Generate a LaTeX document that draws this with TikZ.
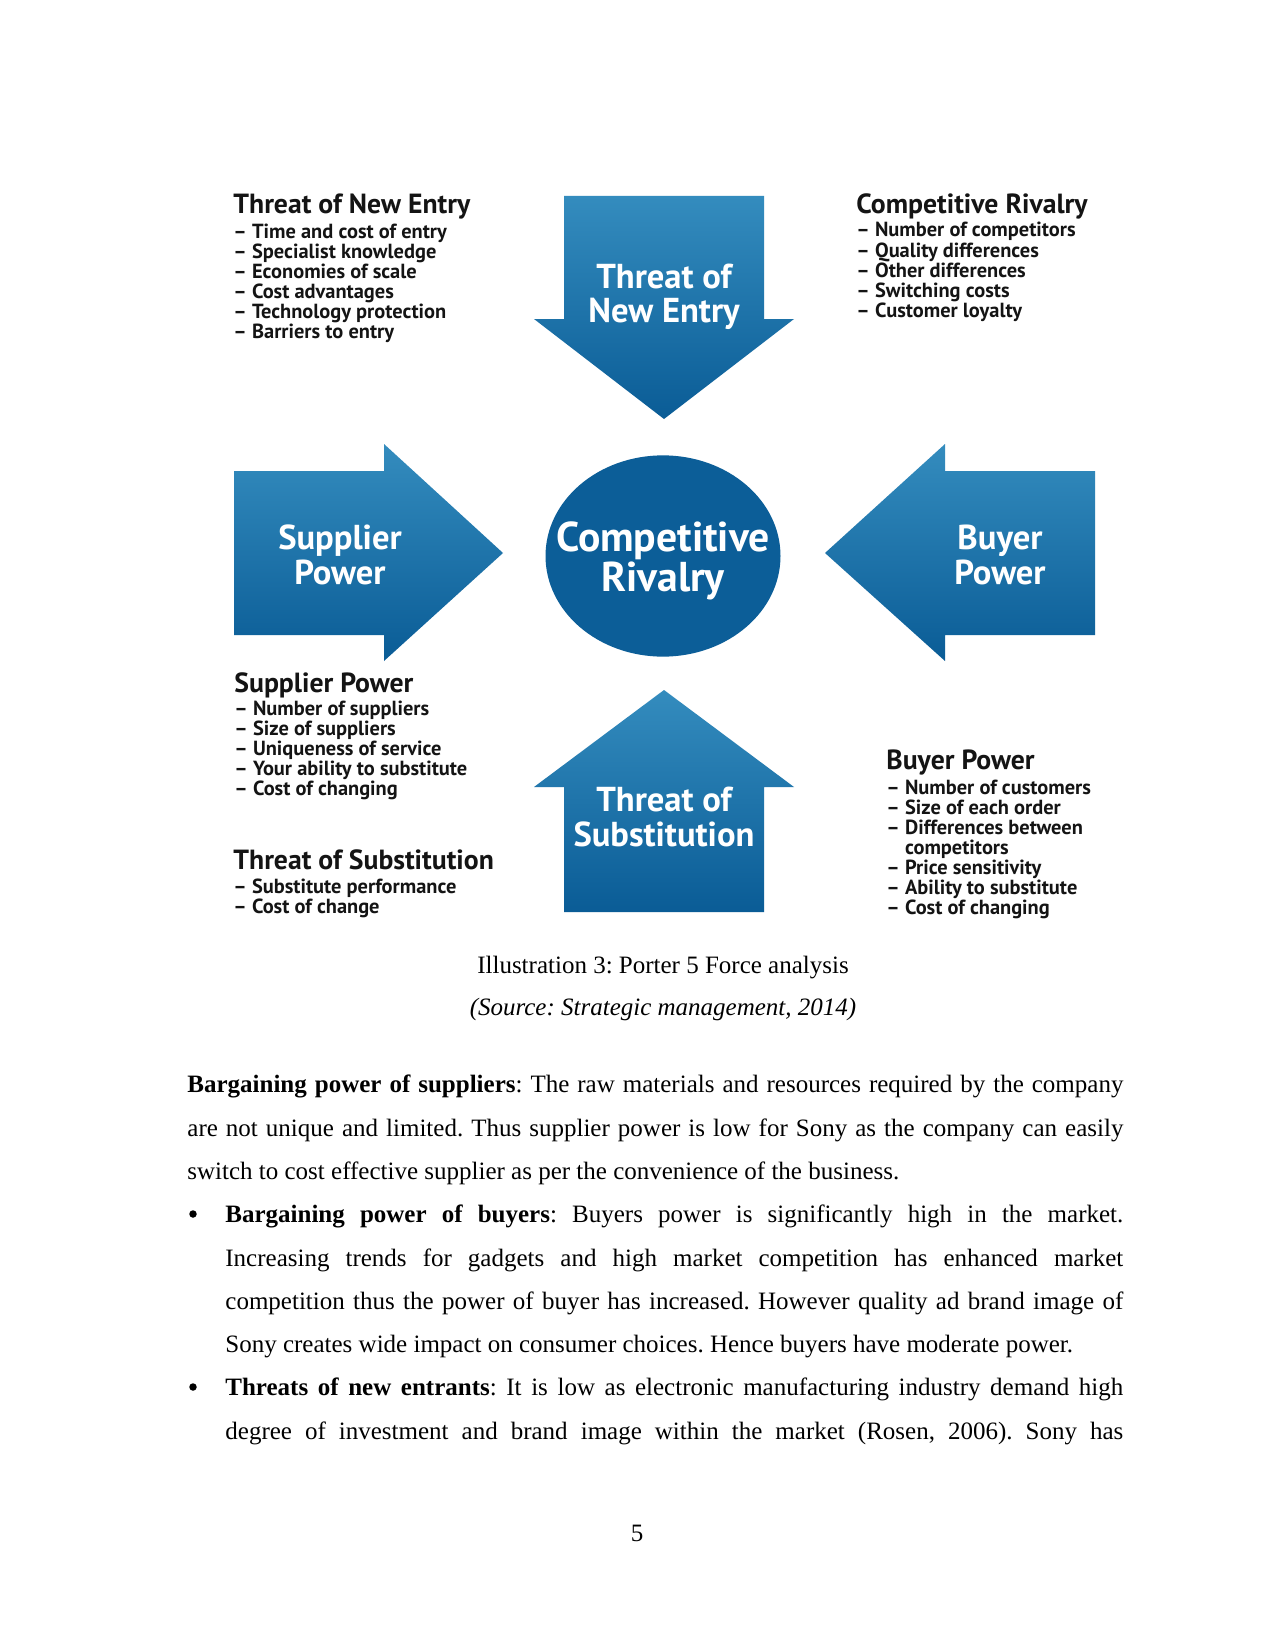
\documentclass[tikz,border=0pt]{standalone}
\usepackage{fontspec}
\setmainfont{Liberation Serif}
\newfontfamily\diagfont{PT Sans}
\usetikzlibrary{positioning}
\frenchspacing

\definecolor{arrowtop}{RGB}{52,140,190}
\definecolor{arrowbot}{RGB}{10,92,150}
\definecolor{rivalblue}{RGB}{12,94,152}
\definecolor{listink}{RGB}{20,20,20}

\tikzset{
  force/.style={top color=arrowtop, bottom color=arrowbot, draw=none},
  forcelabel/.style={font=\diagfont\bfseries\fontsize{16.6}{16.5}\selectfont, text=white, align=center, inner sep=0pt},
  listhead/.style={font=\diagfont\bfseries\fontsize{13.3}{14}\selectfont, text=listink, anchor=base west, inner sep=0pt},
  listitem/.style={font=\diagfont\bfseries\fontsize{9.8}{10}\selectfont, text=listink, anchor=base west, inner sep=0pt},
  bodytext/.style={font=\fontsize{12}{20.8}\selectfont, align=justify, anchor=north west, inner sep=0pt},
  captext/.style={font=\fontsize{12}{14}\selectfont, anchor=base, inner sep=0pt},
  bulletdot/.style={circle, fill=black, inner sep=0pt, minimum size=3.6pt},
}

\begin{document}
\begin{tikzpicture}[x=0.48pt,y=-0.48pt]
\useasboundingbox (0,0) rectangle (1275,1651);
\fill[white] (0,0) rectangle (1275,1651);

% forces
\shade[force] (564,196) -- (764,196) -- (764,319) -- (794,319) -- (664,419) -- (534,319) -- (564,319) -- cycle;
\shade[force] (234,471) -- (384,471) -- (384,444) -- (503,553) -- (384,661) -- (384,635) -- (234,635) -- cycle;
\shade[force] (1095,471) -- (945,471) -- (945,444) -- (825,553) -- (945,661) -- (945,635) -- (1095,635) -- cycle;
\shade[force] (664,690) -- (794,787) -- (764,787) -- (764,912) -- (564,912) -- (564,787) -- (534,787) -- cycle;

% rivalry
\fill[rivalblue] (663,556) ellipse [x radius=56.4pt, y radius=48.3pt];
\node[font=\diagfont\bfseries\fontsize{20}{19.5}\selectfont, text=white, align=center, inner sep=0pt] (rivalry) at (663,561) {Competitive\\Rivalry};

% labels
\node[forcelabel] (entrylabel) at (664,297) {Threat of\\New Entry};
\node[forcelabel] (supplabel) at (340,555) {Supplier\\Power};
\node[forcelabel] (buylabel) at (1000,555) {Buyer\\Power};
\node[forcelabel] (sublabel) at (664,817) {Threat of\\Substitution};

% lists
\node[listhead] (entryhead) at (233,214) {Threat of New Entry};
\foreach \t [count=\i] in {Time and cost of entry, Specialist knowledge, Economies of scale, Cost advantages, Technology protection, Barriers to entry}
  \node[listitem] (entry\i) at (233,218+20*\i) {– \t};

\node[listhead] (rivalhead) at (856,214) {Competitive Rivalry};
\foreach \t [count=\i] in {Number of competitors, Quality differences, Other differences, Switching costs, Customer loyalty}
  \node[listitem] (rival\i) at (856,217+20*\i) {– \t};

\node[listhead] (supphead) at (234,692) {Supplier Power};
\foreach \t [count=\i] in {Number of suppliers, Size of suppliers, Uniqueness of service, Your ability to substitute, Cost of changing}
  \node[listitem] (supp\i) at (234,695+20*\i) {– \t};

\node[listhead] (subhead) at (233,869) {Threat of Substitution};
\foreach \t [count=\i] in {Substitute performance, Cost of change}
  \node[listitem] (sub\i) at (233,873+20*\i) {– \t};

\node[listhead] (buyhead) at (886,769) {Buyer Power};
\foreach \t [count=\i] in {– Number of customers, – Size of each order, – Differences between, \phantom{– }competitors, – Price sensitivity, – Ability to substitute, – Cost of changing}
  \node[listitem] (buy\i) at (886,774+20*\i) {\t};

% caption
\node[captext] (caption) at (663,973) {Illustration 3: Porter 5 Force analysis};
\node[captext, font=\itshape\fontsize{12}{14}\selectfont] (source) at (663,1015) {(Source: Strategic management, 2014)};

% text
\node[bodytext, text width=449.3pt] (para) at (187,1062) {\strut\textbf{Bargaining power of suppliers}: The raw materials and resources required by the company\linebreak are not unique and limited. Thus supplier power is low for Sony as the company can easily\linebreak switch to cost effective supplier as per the convenience of the business.};

\node[bulletdot] (bul1) at (193,1214) {};
\node[bodytext, text width=431pt] (buyers) at (225,1192) {\strut\textbf{Bargaining power of buyers}: Buyers power is significantly high in the market.\linebreak Increasing trends for gadgets and high market competition has enhanced market\linebreak competition thus the power of buyer has increased. However quality ad brand image of\linebreak Sony creates wide impact on consumer choices. Hence buyers have moderate power.};

\node[bulletdot] (bul2) at (193,1387) {};
\node[bodytext, text width=431pt] (entrants) at (225,1365) {\strut\textbf{Threats of new entrants}: It is low as electronic manufacturing industry demand high\linebreak degree of investment and brand image within the market (Rosen, 2006). Sony has\parfillskip=0pt\par};

% page
\node[captext] (pageno) at (637,1541) {5};
\end{tikzpicture}
\end{document}
